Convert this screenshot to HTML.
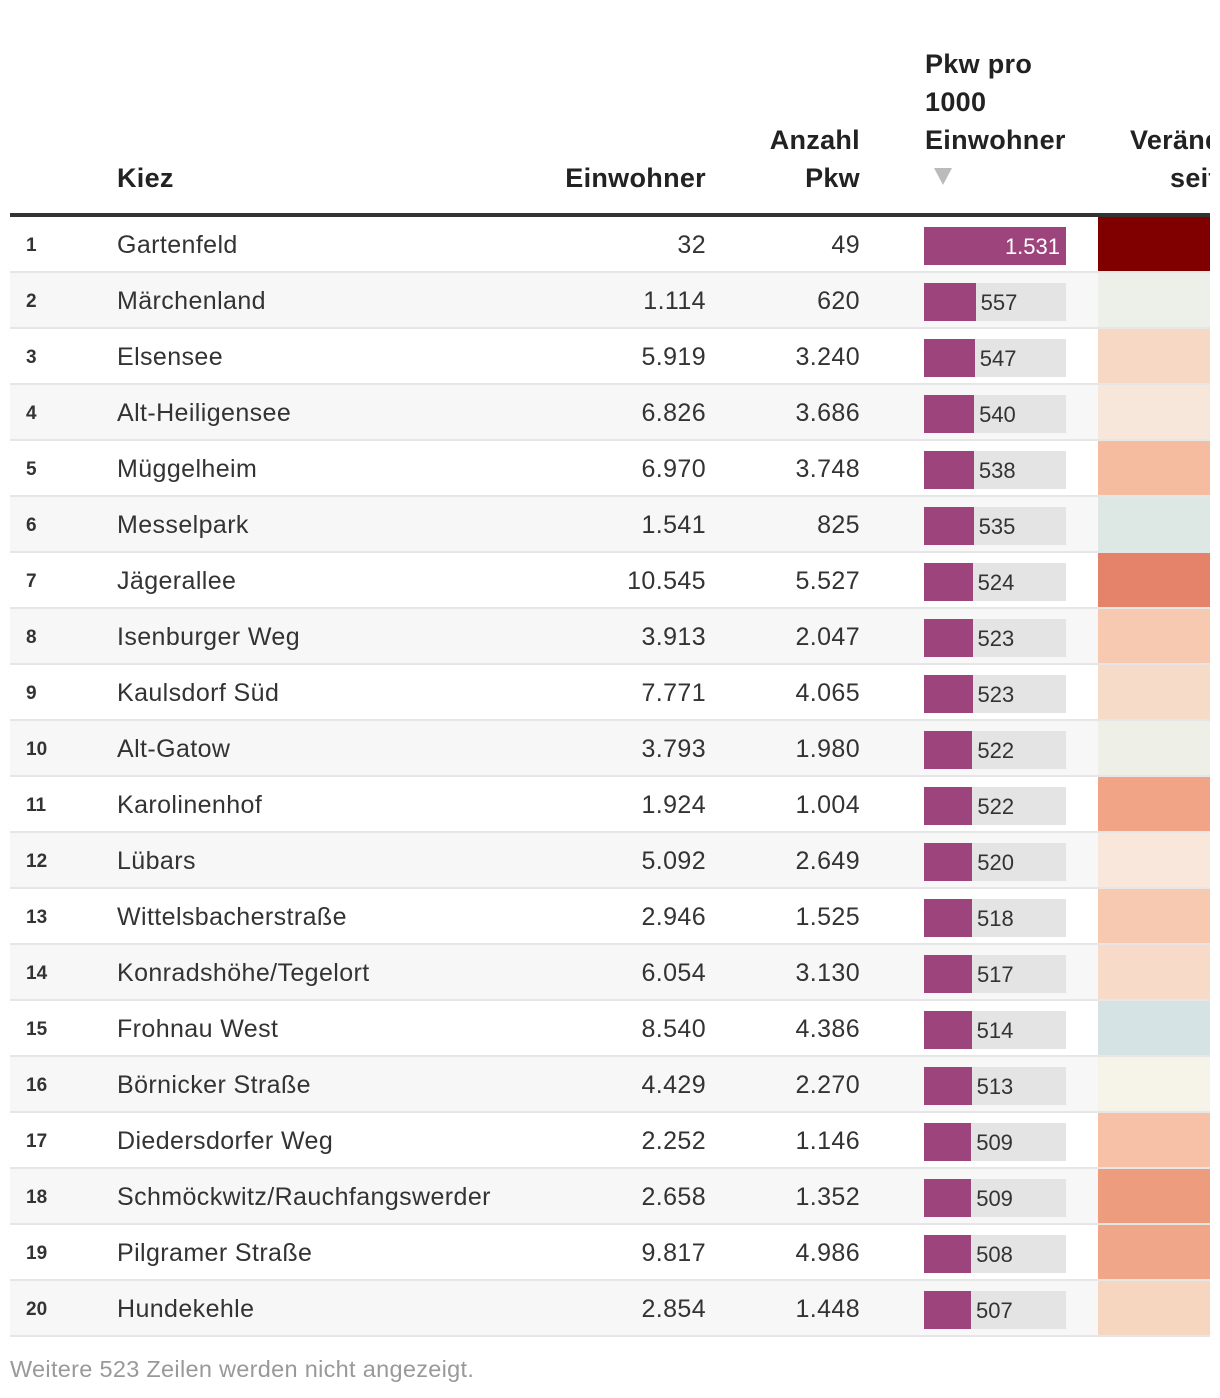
<!DOCTYPE html>
<html><head><meta charset="utf-8">
<style>
body{margin:0;width:1220px;height:1398px;background:#fff;font-family:"Liberation Sans",sans-serif;color:#333;position:relative;overflow:hidden}
#clip{position:absolute;left:0;top:0;width:1210px;height:1398px;overflow:hidden}
.a{position:absolute;white-space:nowrap}
.h{font-weight:bold;font-size:27px;color:#222;line-height:38px;letter-spacing:0.3px}
.c{font-size:25px;color:#333;letter-spacing:0.4px}
.r{font-weight:bold;font-size:19px;color:#333}
</style></head><body>
<div id="clip">
<div class="a h" style="left:117px;top:159px">Kiez</div>
<div class="a h" style="right:504px;top:159px">Einwohner</div>
<div class="a h" style="right:350px;top:121px;text-align:right">Anzahl<br>Pkw</div>
<div class="a h" style="left:925px;top:45px">Pkw pro<br>1000<br>Einwohner</div>
<div class="a" style="left:934px;top:168px;width:0;height:0;border-left:9px solid transparent;border-right:9px solid transparent;border-top:17px solid #bbb"></div>
<div class="a h" style="left:1130px;top:121px">Veränderung<br><span style="margin-left:40px">seit</span></div>
<div class="a" style="left:10px;top:213px;width:1200px;height:4px;background:#333"></div>
<div id="rows"></div>
</div>
<div class="a" style="left:10px;top:1356px;font-size:23.5px;color:#999;letter-spacing:0.3px">Weitere 523 Zeilen werden nicht angezeigt.</div>
<script>
const names=["Gartenfeld","Märchenland","Elsensee","Alt-Heiligensee","Müggelheim","Messelpark","Jägerallee","Isenburger Weg","Kaulsdorf Süd","Alt-Gatow","Karolinenhof","Lübars","Wittelsbacherstraße","Konradshöhe/Tegelort","Frohnau West","Börnicker Straße","Diedersdorfer Weg","Schmöckwitz/Rauchfangswerder","Pilgramer Straße","Hundekehle"];
const einwohner=[32,1114,5919,6826,6970,1541,10545,3913,7771,3793,1924,5092,2946,6054,8540,4429,2252,2658,9817,2854];
const pkw=[49,620,3240,3686,3748,825,5527,2047,4065,1980,1004,2649,1525,3130,4386,2270,1146,1352,4986,1448];
const rate=[1531,557,547,540,538,535,524,523,523,522,522,520,518,517,514,513,509,509,508,507];
const changeColors=["#800000","#edf0e8","#f7d8c4","#f7e6da","#f5bc9f","#dde7e3","#e5826a","#f6c9b0","#f7dbc9","#eef0e7","#f1a486","#f8e7da","#f6c9b0","#f7dbc8","#d5e3e4","#f6f4e8","#f6c1a7","#ed9c7d","#f0a688","#f6d6bf"];
const fmt=v=>v.toString().replace(/\B(?=(\d{3})+(?!\d))/g,".");
const maxR=Math.max(...rate), barW=142, x0=924;
const xs=v=>v/maxR*barW;
const root=document.getElementById('rows');
let html='';
for(let i=0;i<names.length;i++){
  const top=217+i*56;
  const bg=i%2?'#f7f7f7':'#fff';
  const w=xs(rate[i]);
  const full=w>barW-40;
  html+=`<div class="a" style="left:10px;top:${top}px;width:1200px;height:54px;background:${bg};border-bottom:2px solid #e6e6e6">
<div class="a r" style="left:16px;top:18px">${i+1}</div>
<div class="a c" style="left:107px;top:14px">${names[i]}</div>
<div class="a c" style="right:504px;top:14px">${fmt(einwohner[i])}</div>
<div class="a c" style="right:350px;top:14px">${fmt(pkw[i])}</div>
<div class="a" style="left:${x0-10}px;top:10px;width:${barW}px;height:38px;background:#e4e4e4"></div>
<div class="a" style="left:${x0-10}px;top:10px;width:${w}px;height:38px;background:#9e447c"></div>
<div class="a" style="${full?`right:${1200-(x0-10)-barW+6}px;color:#fff`:`left:${x0-10+w+5}px;color:#333`};top:17px;font-size:22px">${fmt(rate[i])}</div>
<div class="a" style="left:1088px;top:0;width:112px;height:54px;background:${changeColors[i]}"></div>
</div>`;
}
root.innerHTML=html;
</script>
</body></html>
